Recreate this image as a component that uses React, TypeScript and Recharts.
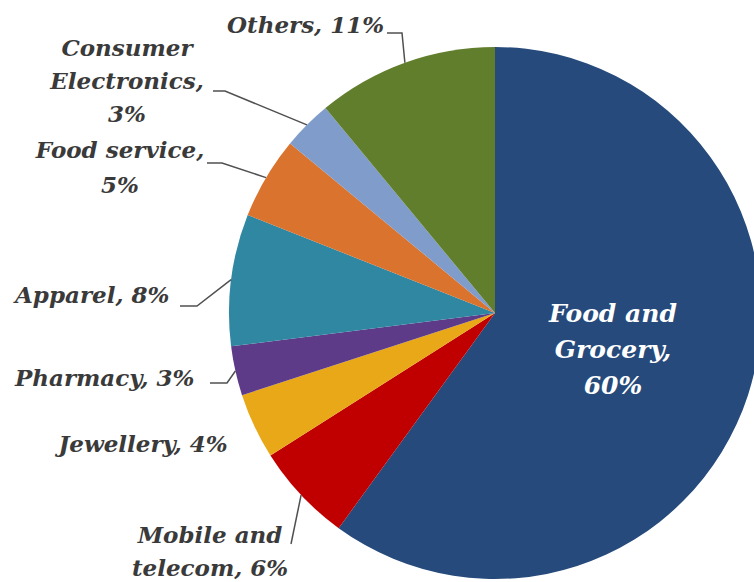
import { PieChart, Pie, Cell } from "recharts"

const categories = [
  "Food and Grocery",
  "Mobile and telecom",
  "Jewellery",
  "Pharmacy",
  "Apparel",
  "Food service",
  "Consumer Electronics",
  "Others",
]
const shares = [60, 6, 4, 3, 8, 5, 3, 11]
const colors = ["#254A7B", "#C00000", "#E8A818", "#5D3B88", "#2F87A1", "#D9732E", "#7F9CCB", "#617E2D"]

const data = categories.map((name, i) => ({ name, value: shares[i] }))

// where Excel put each label, plus the elbow of its leader line
const labelLayout = [
  { x: 613, y: 322, anchor: "middle", wrap: [2, 1, 1], lh: 36, size: 25, fill: "#ffffff", leader: [] as number[][] },
  { x: 210, y: 543, anchor: "middle", wrap: [2, 2], lh: 33, size: 23, fill: "#3a3a3a", leader: [[291, 544]] },
  { x: 143, y: 452, anchor: "middle", wrap: [2], lh: 33, size: 23, fill: "#3a3a3a", leader: [] },
  { x: 15, y: 386, anchor: "start", wrap: [2], lh: 33, size: 23, fill: "#3a3a3a", leader: [[210, 383], [227, 383]] },
  { x: 15, y: 303, anchor: "start", wrap: [2], lh: 33, size: 23, fill: "#3a3a3a", leader: [[180, 306], [197, 306]] },
  { x: 120, y: 158, anchor: "middle", wrap: [2, 1], lh: 35, size: 23, fill: "#3a3a3a", leader: [[207, 163], [222, 163]] },
  { x: 127, y: 56, anchor: "middle", wrap: [1, 1, 1], lh: 33, size: 23, fill: "#3a3a3a", leader: [[213, 91], [225, 91]] },
  { x: 384, y: 33, anchor: "end", wrap: [2], lh: 33, size: 23, fill: "#3a3a3a", leader: [[387, 33], [402, 33]] },
]

const RAD = Math.PI / 180

function renderLabel(props: any) {
  const { cx, cy, midAngle, outerRadius, index } = props
  const lay = labelLayout[index]
  const words = `${categories[index]}, ${shares[index]}%`.split(" ")
  const lines: string[] = []
  let k = 0
  lay.wrap.forEach((n) => {
    lines.push(words.slice(k, k + n).join(" "))
    k += n
  })
  const ex = cx + outerRadius * Math.cos(-midAngle * RAD)
  const ey = cy + outerRadius * Math.sin(-midAngle * RAD)
  const pts = lay.leader.length ? [...lay.leader, [ex, ey]] : []
  return (
    <g key={`lbl-${index}`}>
      {pts.length > 0 && (
        <polyline
          points={pts.map((p) => p.join(",")).join(" ")}
          fill="none"
          stroke="#505050"
          strokeWidth={1.5}
        />
      )}
      <text
        x={lay.x}
        y={lay.y}
        textAnchor={lay.anchor}
        fill={lay.fill}
        fontFamily="'DejaVu Serif', serif"
        fontWeight="bold"
        fontStyle="italic"
        fontSize={lay.size}
      >
        {lines.map((line, i) => (
          <tspan key={i} x={lay.x} dy={i === 0 ? 0 : lay.lh}>
            {line}
          </tspan>
        ))}
      </text>
    </g>
  )
}

export default function App() {
  return (
    <div style={{ position: "absolute", left: 0, top: 0, width: 754, height: 582, background: "#fff" }}>
      <PieChart width={754} height={582} margin={{ top: 0, right: 0, bottom: 0, left: 0 }}>
        <Pie
          data={data}
          dataKey="value"
          nameKey="name"
          cx={495}
          cy={313}
          outerRadius={266}
          startAngle={90}
          endAngle={-270}
          stroke="none"
          label={renderLabel}
          labelLine={false}
          isAnimationActive={false}
        >
          {data.map((d, i) => (
            <Cell key={d.name} fill={colors[i]} />
          ))}
        </Pie>
      </PieChart>
    </div>
  )
}
